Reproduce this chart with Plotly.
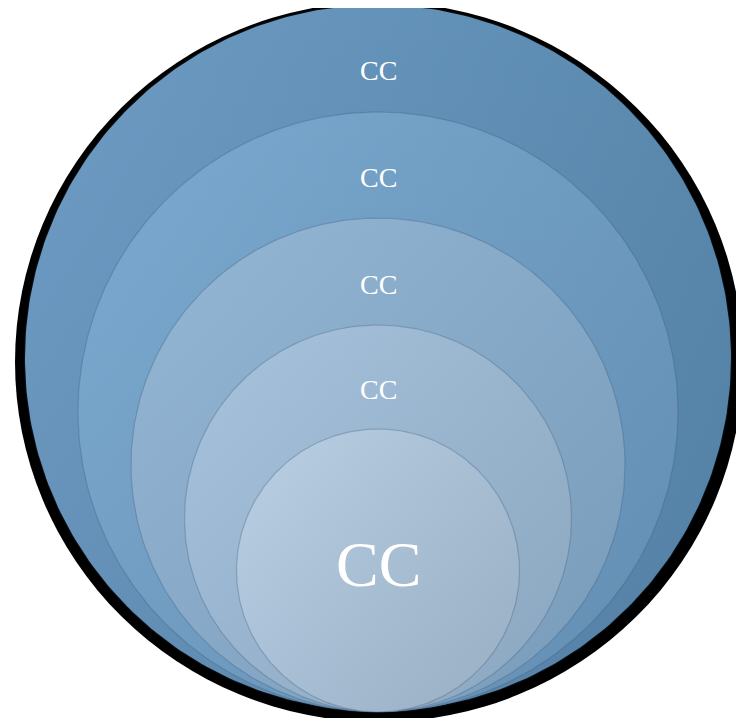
import numpy as np
import plotly.graph_objects as go

# ---- data ----
labels = ["CC", "CC", "CC", "CC", "CC"]          # outer -> inner
diameters = [708, 600, 494, 387, 283]            # relative circle sizes (outer -> inner)
colors_left = ["#6e9cc4", "#7caad0", "#94b7d5", "#a7c3dd", "#b9d0e5"]
colors_right = ["#5a89ae", "#6c99be", "#84a8c7", "#98b4cd", "#a7bdd1"]

W, H = 744, 726
OFF = 8           # page body margin compensation
CX = 378          # common horizontal center
BOTTOM = 712      # common tangent point at the bottom

fig = go.Figure()

# shadow / dark rim behind the outer circle
R0 = diameters[0] / 2
fig.add_shape(type="circle", xref="x", yref="y",
              x0=CX - R0 - 9, x1=CX + R0 + 11, y0=BOTTOM - 2 * R0 - 2, y1=BOTTOM + 10,
              fillcolor="#000000", line=dict(width=0), layer="below")

t = np.linspace(0, 2 * np.pi, 361)
tops = [BOTTOM - d for d in diameters]
for i, d in enumerate(diameters):
    r = d / 2
    cy = BOTTOM - r
    xs = CX + r * np.cos(t)
    ys = cy + r * np.sin(t)
    fig.add_trace(go.Scatter(
        x=xs, y=ys, mode="lines", fill="toself",
        line=dict(color="rgba(0,0,0,0.9)" if i == 0 else "rgba(55,85,115,0.30)",
                  width=2 if i == 0 else 1.2),
        fillgradient=dict(type="horizontal",
                          colorscale=[[0, colors_left[i]], [1, colors_right[i]]]),
        hoverinfo="skip", showlegend=False))
    # subtle darkening toward the bottom
    fig.add_trace(go.Scatter(
        x=xs, y=ys, mode="lines", fill="toself", line=dict(width=0),
        fillgradient=dict(type="vertical",
                          colorscale=[[0, "rgba(20,40,70,0.10)"], [1, "rgba(20,40,70,0)"]]),
        hoverinfo="skip", showlegend=False))

# labels
for i, lab in enumerate(labels):
    if i < len(labels) - 1:
        y = tops[i] + 0.62 * (tops[i + 1] - tops[i])
        size = 28
    else:
        y = BOTTOM - diameters[i] / 2 - 6
        size = 64
    fig.add_annotation(x=CX, y=y, text=lab, showarrow=False,
                       xanchor="center", yanchor="middle",
                       font=dict(family="Liberation Serif, Times New Roman, serif",
                                 size=size, color="white"))

fig.update_layout(
    width=W - 2 * OFF, height=H - 2 * OFF, margin=dict(l=0, r=0, t=0, b=0),
    paper_bgcolor="white", plot_bgcolor="white",
    xaxis=dict(range=[OFF, W - OFF], visible=False, fixedrange=True),
    yaxis=dict(range=[H - OFF, OFF], visible=False, fixedrange=True),
    showlegend=False,
)
fig.write_html("out.html")
